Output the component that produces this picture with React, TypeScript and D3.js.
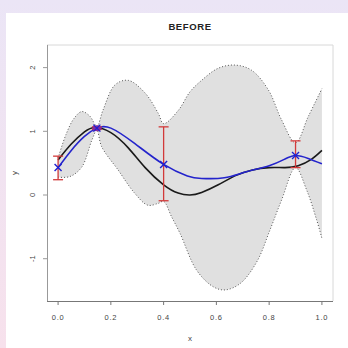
import React from "react";
import * as d3 from "d3";

// true function (black)
const trueX = [0, 0.05, 0.1, 0.14, 0.2, 0.266, 0.33, 0.4, 0.455, 0.5, 0.544, 0.607, 0.67, 0.733, 0.8, 0.86, 0.91, 0.96, 1.0];
const trueY = [0.55, 0.8, 0.99, 1.06, 0.98, 0.74, 0.43, 0.16, 0.03, 0.0, 0.04, 0.16, 0.3, 0.39, 0.43, 0.43, 0.46, 0.56, 0.7];

// posterior mean (blue)
const meanX = [0, 0.05, 0.1, 0.147, 0.2, 0.29, 0.4, 0.49, 0.544, 0.63, 0.71, 0.8, 0.86, 0.9, 0.948, 1.0];
const meanY = [0.43, 0.7, 0.92, 1.05, 1.05, 0.81, 0.48, 0.3, 0.26, 0.27, 0.36, 0.46, 0.565, 0.62, 0.575, 0.49];

// band upper / lower (dotted)
const upX = [0, 0.03, 0.06, 0.09, 0.12, 0.147, 0.17, 0.216, 0.266, 0.33, 0.38, 0.4, 0.456, 0.5, 0.544, 0.607, 0.67, 0.733, 0.797, 0.847, 0.9, 0.948, 1.0];
const upY = [0.58, 0.95, 1.2, 1.31, 1.24, 1.08, 1.33, 1.73, 1.8, 1.6, 1.28, 1.12, 1.33, 1.62, 1.8, 1.99, 2.04, 1.96, 1.65, 1.18, 0.82, 1.23, 1.67];
const loX = [0, 0.045, 0.09, 0.128, 0.147, 0.165, 0.228, 0.29, 0.34, 0.38, 0.4, 0.43, 0.462, 0.525, 0.588, 0.633, 0.69, 0.753, 0.803, 0.847, 0.9, 0.942, 0.98, 1.0];
const loY = [0.28, 0.29, 0.44, 0.86, 1.02, 0.76, 0.39, 0.03, -0.16, -0.13, -0.1, -0.34, -0.6, -1.18, -1.44, -1.49, -1.39, -1.05, -0.55, -0.08, 0.43, 0.08, -0.39, -0.68];

// observations with error bars
const obsX = [0, 0.147, 0.4, 0.9];
const obsY = [0.43, 1.05, 0.48, 0.62];
const errLo = [0.24, 1.03, -0.09, 0.43];
const errHi = [0.61, 1.07, 1.07, 0.85];

const xTicks = [0, 0.2, 0.4, 0.6, 0.8, 1.0];
const yTicks = [-1, 0, 1, 2];

const font = "'Liberation Sans', Arial, sans-serif";

export default function App() {
  const x = d3.scaleLinear().domain([-0.042, 1.042]).range([47, 333]);
  const y = d3.scaleLinear().domain([-1.664, 2.355]).range([301, 45]);

  const zip = (a: number[], b: number[]) => a.map((v, i) => [v, b[i]] as [number, number]);

  const bandLine = d3
    .line<[number, number]>()
    .x((d) => x(d[0]))
    .y((d) => y(d[1]))
    .curve(d3.curveCatmullRom.alpha(0.5));
  const smooth = d3
    .line<[number, number]>()
    .x((d) => x(d[0]))
    .y((d) => y(d[1]))
    .curve(d3.curveNatural);

  const upPts = zip(upX, upY);
  const loPts = zip(loX, loY);
  const upPath = bandLine(upPts) || "";
  const loRev = bandLine(loPts.slice().reverse()) || "";
  const bandPath = upPath + "L" + loRev.slice(1) + "Z";

  const [x0, x1] = x.range();
  const [y0, y1] = y.range();

  return (
    <div style={{ position: "fixed", left: 0, top: 0 }}>
      <svg width={348} height={348} style={{ display: "block" }}>
        <defs>
          <linearGradient id="bg" x1="0" y1="0" x2="0" y2="1">
            <stop offset="0" stopColor="#ebe5f6" />
            <stop offset="1" stopColor="#f7e1ec" />
          </linearGradient>
        </defs>
        <rect width={348} height={348} fill="url(#bg)" />
        <rect x={6} y={13} width={342} height={335} fill="#ffffff" />

        <text x={190} y={30} textAnchor="middle" fontFamily={font} fontWeight="bold" fontSize={9.5} letterSpacing={0.6} fill="#222">
          BEFORE
        </text>

        {/* band */}
        <path d={bandPath} fill="#e0e0e0" stroke="none" />
        <path d={upPath} fill="none" stroke="#555" strokeWidth={1} strokeDasharray="1 2" />
        <path d={bandLine(loPts) || ""} fill="none" stroke="#555" strokeWidth={1} strokeDasharray="1 2" />

        {/* true function and mean */}
        <path d={smooth(zip(trueX, trueY)) || ""} fill="none" stroke="#1a1a1a" strokeWidth={1.6} />
        <path d={smooth(zip(meanX, meanY)) || ""} fill="none" stroke="#2424cc" strokeWidth={1.6} />

        {/* error bars */}
        {obsX.map((v, i) => (
          <g key={"e" + i} stroke="#d23a3a" strokeWidth={1.3}>
            <line x1={x(v)} x2={x(v)} y1={y(errLo[i])} y2={y(errHi[i])} />
            <line x1={x(v) - 5} x2={x(v) + 5} y1={y(errLo[i])} y2={y(errLo[i])} />
            <line x1={x(v) - 5} x2={x(v) + 5} y1={y(errHi[i])} y2={y(errHi[i])} />
          </g>
        ))}
        {obsX.map((v, i) =>
          errHi[i] - errLo[i] < 0.1 ? (
            <ellipse key={"m" + i} cx={x(v)} cy={y(obsY[i])} rx={4.5} ry={3} fill="#8a2a9c" />
          ) : null
        )}
        {obsX.map((v, i) => (
          <g key={"p" + i} stroke="#2020d0" strokeWidth={1.4}>
            <line x1={x(v) - 3.5} x2={x(v) + 3.5} y1={y(obsY[i]) - 3.5} y2={y(obsY[i]) + 3.5} />
            <line x1={x(v) - 3.5} x2={x(v) + 3.5} y1={y(obsY[i]) + 3.5} y2={y(obsY[i]) - 3.5} />
          </g>
        ))}

        {/* box */}
        <line x1={x0} x2={x1} y1={y1} y2={y1} stroke="#d8d8d8" />
        <line x1={x1} x2={x1} y1={y1} y2={y0} stroke="#d8d8d8" />
        <line x1={x0} x2={x1} y1={y0 + 0.5} y2={y0 + 0.5} stroke="#777" />
        <line x1={x0 + 0.5} x2={x0 + 0.5} y1={y1} y2={y0} stroke="#999" />

        {/* x axis */}
        {xTicks.map((t) => (
          <g key={"x" + t}>
            <line x1={x(t)} x2={x(t)} y1={y0} y2={y0 + 4} stroke="#777" />
            <text x={x(t)} y={320} textAnchor="middle" fontFamily={font} fontSize={7.5} letterSpacing={0.8} fill="#444">
              {t.toFixed(1)}
            </text>
          </g>
        ))}
        <text x={190} y={341} textAnchor="middle" fontFamily={font} fontSize={8} fill="#444">
          x
        </text>

        {/* y axis */}
        {yTicks.map((t) => (
          <g key={"y" + t}>
            <line x1={x0 - 4} x2={x0} y1={y(t)} y2={y(t)} stroke="#999" />
            <text
              transform={`translate(35,${y(t)}) rotate(-90)`}
              textAnchor="middle"
              fontFamily={font}
              fontSize={7.5}
              fill="#444"
            >
              {t}
            </text>
          </g>
        ))}
        <text transform={`translate(17,173) rotate(-90)`} textAnchor="middle" fontFamily={font} fontSize={8} fill="#444">
          y
        </text>
      </svg>
    </div>
  );
}
